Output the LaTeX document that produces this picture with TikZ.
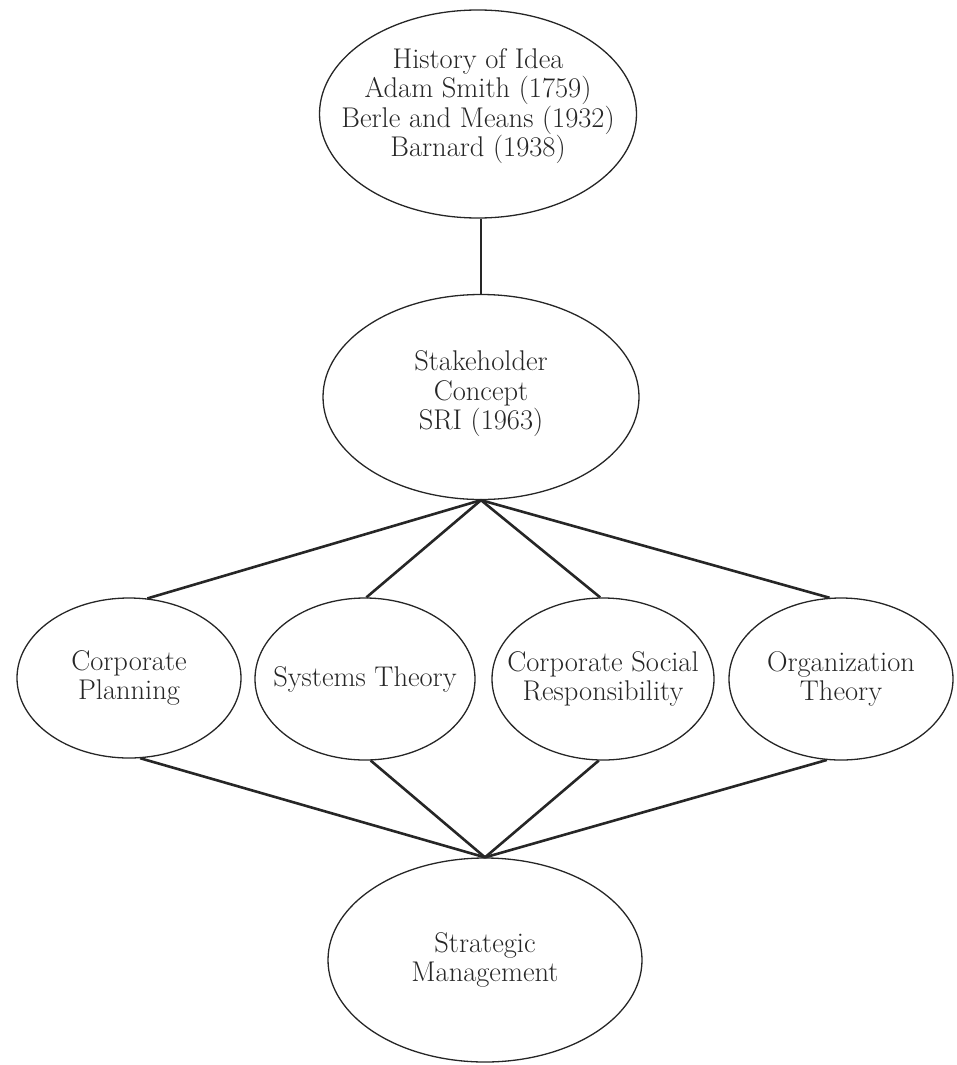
\documentclass[tikz,border=0pt]{standalone}
\usepackage{fontspec}
\setmainfont{Latin Modern Roman}
\usetikzlibrary{shapes.geometric}
\begin{document}
\begin{tikzpicture}[x=1pt,y=-1pt,
  bubble/.style={ellipse,draw=black!85,line width=1.3pt,inner sep=0pt},
  txt/.style={inner sep=0pt,align=center,text=black!85,font=\fontsize{28.5}{29.5}\selectfont},
  link/.style={draw=black!85,line width=2.6pt}]
\useasboundingbox (0,0) rectangle (957,1065);
\node[bubble,minimum width=317pt,minimum height=208pt] (hist) at (478,114) {};
\node[txt] (histt) at (478,106)
  {History of Idea\\Adam Smith (1759)\\Berle and Means (1932)\\Barnard (1938)};
\node[bubble,minimum width=316pt,minimum height=205pt] (stake) at (481,397) {};
\node[txt] (staket) at (481,394) {Stakeholder\\Concept\\SRI (1963)};
\node[bubble,minimum width=224pt,minimum height=160pt] (cp) at (129,678) {};
\node[txt] (cpt) at (cp) {Corporate\\Planning};
\node[bubble,minimum width=220pt,minimum height=162pt] (st) at (365,679) {};
\node[txt] (stt) at (st) {Systems Theory};
\node[bubble,minimum width=222pt,minimum height=162pt] (csr) at (603,679) {};
\node[txt] (csrt) at (csr) {Corporate Social\\Responsibility};
\node[bubble,minimum width=224pt,minimum height=162pt] (ot) at (841,679) {};
\node[txt] (ott) at (ot) {Organization\\Theory};
\node[bubble,minimum width=314pt,minimum height=204pt] (sm) at (485,960) {};
\node[txt] (smt) at (sm) {Strategic\\Management};
\draw[link] (stake.north) -- (stake.north |- hist.south);
\draw[link] (cp.77) -- (stake.south);
\draw[link] (st.89) -- (stake.south);
\draw[link] (csr.92) -- (stake.south);
\draw[link] (ot.98) -- (stake.south);
\draw[link] (cp.-82) -- (sm.north);
\draw[link] (st.-86) -- (sm.north);
\draw[link] (csr.-93) -- (sm.north);
\draw[link] (ot.-100) -- (sm.north);
\end{tikzpicture}
\end{document}
